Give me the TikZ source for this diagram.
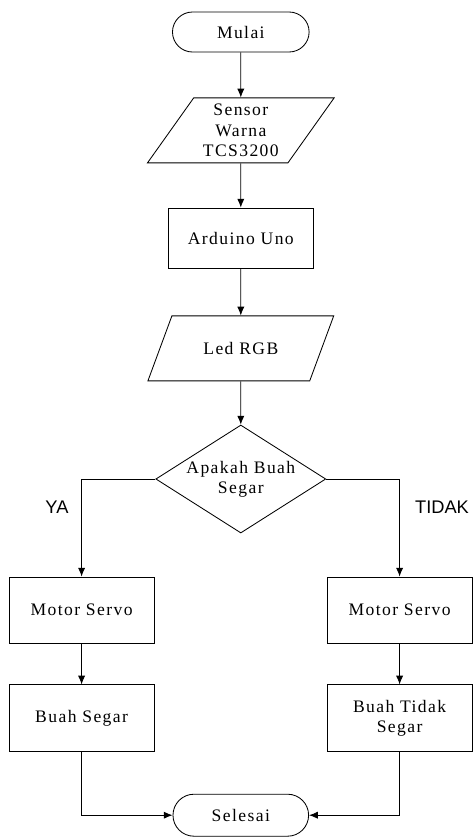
\documentclass[tikz,border=0pt]{standalone}
\usepackage{fontspec}
\setmainfont[LetterSpace=8]{Liberation Serif}
\newfontfamily\labelfont{Liberation Sans}
\usepackage{tikz}
\usetikzlibrary{shapes.geometric,shapes.misc,arrows.meta}

\tikzset{
  terminal/.style={draw, line width=0.6pt, rounded rectangle, minimum width=3.65cm, minimum height=1.0cm, font=\fontsize{12.5}{14.5}\selectfont},
  proses/.style={draw, line width=0.6pt, rectangle, minimum width=3.625cm, minimum height=1.65cm, align=center, font=\fontsize{12.5}{14.5}\selectfont},
  io/.style={draw, line width=0.6pt, trapezium, trapezium left angle=56, trapezium right angle=124, trapezium stretches=true, minimum width=4.675cm, minimum height=1.625cm, align=center, font=\fontsize{12.5}{14.5}\selectfont},
  keputusan/.style={draw, line width=0.6pt, diamond, aspect=1.57, inner sep=0pt, minimum width=4.25cm, minimum height=2.7cm, align=center, font=\fontsize{12.5}{14.5}\selectfont},
  garis/.style={->, line width=0.6pt},
  cabang/.style={font=\labelfont\fontsize{13}{15}\selectfont}
}

\begin{document}
\begin{tikzpicture}[>={Latex[length=2.2mm,width=1.8mm]}]
  \useasboundingbox (0,0) rectangle (11.85,-20.925);

  % Main column
  \node[terminal] (mulai) at (6.02,-0.8) {Mulai};
  \node[io] (sensor) at (6.02,-3.26) {Sensor\\Warna\\TCS3200};
  \node[proses, minimum height=1.5cm] (arduino) at (6.02,-5.95) {Arduino Uno};
  \node[io] (led) at (6.02,-8.71) {Led RGB};
  \node[keputusan] (cek) at (6.02,-11.975) {Apakah Buah\\Segar};

  % Branches
  \node[proses] (servoya) at (2.04,-15.25) {Motor Servo};
  \node[proses] (servotidak) at (9.99,-15.25) {Motor Servo};
  \node[proses, minimum height=1.675cm] (segar) at (2.04,-17.96) {Buah Segar};
  \node[proses, minimum height=1.675cm] (tidaksegar) at (9.99,-17.96) {Buah Tidak\\Segar};
  \node[cabang] (ya) at (1.425,-12.675) {YA};
  \node[cabang] (tidak) at (11.05,-12.675) {TIDAK};

  % End
  \node[terminal, minimum width=3.625cm, minimum height=1.05cm] (selesai) at (6.02,-20.38) {Selesai};

  % Arrows
  \draw[garis] (mulai) -- (sensor);
  \draw[garis] (sensor) -- (arduino);
  \draw[garis] (arduino) -- (led);
  \draw[garis] (led) -- (cek);
  \draw[garis] (cek.west) -| (servoya.north);
  \draw[garis] (cek.east) -| (servotidak.north);
  \draw[garis] (servoya) -- (segar);
  \draw[garis] (servotidak) -- (tidaksegar);
  \draw[garis] (segar.south) |- (selesai.west);
  \draw[garis] (tidaksegar.south) |- (selesai.east);
\end{tikzpicture}
\end{document}
